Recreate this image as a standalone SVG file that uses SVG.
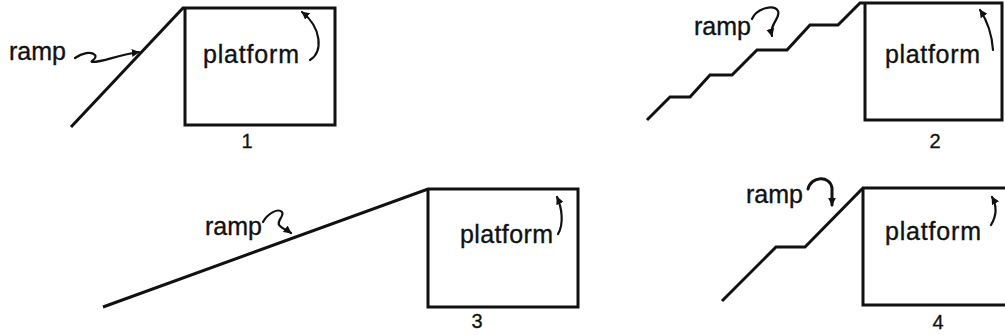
<svg xmlns="http://www.w3.org/2000/svg" width="1005" height="335" viewBox="0 0 1005 335">
<defs>
<marker id="ah" viewBox="0 0 10 10" refX="9" refY="5" markerWidth="8" markerHeight="8" markerUnits="userSpaceOnUse" orient="auto">
<path d="M0,0 L10,5 L0,10 Z" fill="#111"/>
</marker>
<style>
.ln{fill:none;stroke:#111;stroke-width:3;stroke-linejoin:miter;stroke-linecap:butt}
.ar{fill:none;stroke:#111;stroke-width:2.2;stroke-linecap:round;marker-end:url(#ah)}
.t{font-family:"Liberation Sans",Arial,sans-serif;font-size:25px;fill:#111;stroke:#111;stroke-width:0.35}
.n{font-family:"Liberation Sans",Arial,sans-serif;font-size:20px;fill:#111;stroke:#111;stroke-width:0.3;text-anchor:middle}
</style>
</defs>
<rect width="1005" height="335" fill="#fff"/>

<g id="panel1">
<path class="ln" d="M71,127 L183,8 L335,8 L335,125 L185,125 L185,8"/>
<text class="t" x="9" y="60">ramp</text>
<text class="t" x="203" y="63" textLength="96">platform</text>
<text class="n" x="247" y="148">1</text>
</g>

<g id="panel2">
<path class="ln" d="M647,120 L670,97 L690,97 L710,75 L732,75 L757,50 L787,50 L810,25 L838,25 L860,3 L1002,3 L1002,120 L865,120 L865,3"/>
<text class="t" x="694" y="35">ramp</text>
<text class="t" x="885" y="63" textLength="95">platform</text>
<text class="n" x="935" y="148">2</text>
</g>

<g id="panel3">
<path class="ln" d="M103,307 L428,189 L578,189 L578,307 L428,307 L428,189"/>
<text class="t" x="205" y="235">ramp</text>
<text class="t" x="460" y="243" textLength="93">platform</text>
<text class="n" x="477" y="328">3</text>
</g>

<g id="panel4">
<path class="ln" d="M722,301 L776,247 L805,247 L863,188 L1006,188"/>
<path class="ln" d="M863,188 L863,305 L1006,305"/>
<text class="t" x="746" y="203">ramp</text>
<text class="t" x="885" y="240" textLength="96">platform</text>
<text class="n" x="938" y="329">4</text>
</g>

<g id="connectors">
<path class="ar" d="M75,58 C82,53 91,51 95,55 C98,59 88,62 93,62 C103,62 118,55 139,52"/>
<path class="ar" d="M310,60 C323,52 322,28 302,12"/>
<path class="ar" d="M752,19 C757,8 774,4 778,11 C781,18 769,24 772,36"/>
<path class="ar" d="M993,50 C992,35 988,22 980,10"/>
<path class="ar" d="M263,222 C268,213 278,208 282,212 C285,216 275,222 280,226 C283,229 287,230 291,233"/>
<path class="ar" d="M558,234 C564,224 562,208 557,197"/>
<path class="ar" d="M808,189 C811,176 830,175 832,188 L832,205" style="stroke-width:3"/>
<path class="ar" d="M991,225 C997,215 997,206 992,197"/>
</g>
</svg>
